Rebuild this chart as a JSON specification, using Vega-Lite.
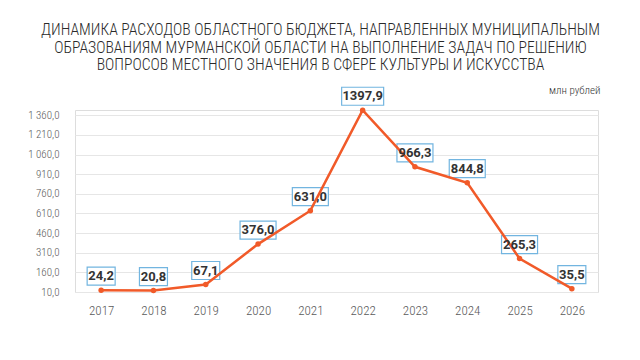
{
  "$schema": "https://vega.github.io/schema/vega-lite/v6.json",
  "width": 523,
  "height": 182,
  "autosize": {"type": "none"},
  "padding": {"left": 75, "top": 110, "right": 42, "bottom": 68},
  "background": "white",
  "title": {
    "text": [
      "ДИНАМИКА РАСХОДОВ ОБЛАСТНОГО БЮДЖЕТА, НАПРАВЛЕННЫХ МУНИЦИПАЛЬНЫМ",
      "ОБРАЗОВАНИЯМ МУРМАНСКОЙ ОБЛАСТИ НА ВЫПОЛНЕНИЕ ЗАДАЧ ПО РЕШЕНИЮ",
      "ВОПРОСОВ МЕСТНОГО ЗНАЧЕНИЯ В СФЕРЕ КУЛЬТУРЫ И ИСКУССТВА"
    ],
    "anchor": "middle",
    "dx": -16,
    "font": "Roboto Condensed, Liberation Sans Narrow, sans-serif",
    "fontSize": 15.7,
    "fontWeight": 300,
    "color": "#2a2a2a",
    "lineHeight": 17.5,
    "offset": 10
  },
  "data": {
    "values": [
      {"year": "2017", "value": 24.2, "label": "24,2"},
      {"year": "2018", "value": 20.8, "label": "20,8"},
      {"year": "2019", "value": 67.1, "label": "67,1"},
      {"year": "2020", "value": 376.0, "label": "376,0"},
      {"year": "2021", "value": 631.0, "label": "631,0"},
      {"year": "2022", "value": 1397.9, "label": "1397,9"},
      {"year": "2023", "value": 966.3, "label": "966,3"},
      {"year": "2024", "value": 844.8, "label": "844,8"},
      {"year": "2025", "value": 265.3, "label": "265,3"},
      {"year": "2026", "value": 35.5, "label": "35,5"}
    ]
  },
  "encoding": {
    "x": {
      "field": "year",
      "type": "ordinal",
      "scale": {"type": "point", "padding": 0.5},
      "axis": {
        "title": null,
        "domain": false,
        "ticks": false,
        "grid": false,
        "labelAngle": 0,
        "labelPadding": 12,
        "labelFontSize": 13,
        "labelFontWeight": 300,
        "labelColor": "#595959",
        "labelFont": "Roboto Condensed, Liberation Sans Narrow, sans-serif"
      }
    },
    "y": {
      "field": "value",
      "type": "quantitative",
      "scale": {"domain": [10, 1400], "nice": false, "zero": false},
      "axis": {
        "values": [10, 160, 310, 460, 610, 760, 910, 1060, 1210, 1360],
        "labelExpr": "replace(replace(format(datum.value, ',.1f'), ',', ' '), '.', ',')",
        "domain": false,
        "ticks": false,
        "gridColor": "#e6e6e6",
        "labelPadding": 16,
        "labelFontSize": 11,
        "labelFontWeight": 300,
        "labelColor": "#595959",
        "labelFont": "Roboto Condensed, Liberation Sans Narrow, sans-serif",
        "title": "млн рублей",
        "titleAngle": 0,
        "titleAlign": "right",
        "titleBaseline": "middle",
        "titleX": 525,
        "titleY": -20,
        "titleFontSize": 11,
        "titleFontWeight": 300,
        "titleColor": "#333333",
        "titleFont": "Roboto Condensed, Liberation Sans Narrow, sans-serif"
      }
    }
  },
  "layer": [
    {
      "transform": [{"filter": "datum.value < 100"}],
      "mark": {"type": "point", "shape": "M-14,-23H14V-5H-14Z", "size": 4, "filled": true, "fill": "white", "stroke": "#72b5e0", "strokeWidth": 1.2, "opacity": 1}
    },
    {
      "transform": [{"filter": "datum.value >= 100 && datum.value < 1000"}],
      "mark": {"type": "point", "shape": "M-18,-23H18V-5H-18Z", "size": 4, "filled": true, "fill": "white", "stroke": "#72b5e0", "strokeWidth": 1.2, "opacity": 1}
    },
    {
      "transform": [{"filter": "datum.value >= 1000"}],
      "mark": {"type": "point", "shape": "M-21,-23H21V-5H-21Z", "size": 4, "filled": true, "fill": "white", "stroke": "#72b5e0", "strokeWidth": 1.2, "opacity": 1}
    },
    {
      "mark": {"type": "line", "color": "#f15a29", "strokeWidth": 2.5}
    },
    {
      "mark": {"type": "point", "filled": true, "size": 30, "color": "#f15a29", "opacity": 1}
    },
    {
      "mark": {"type": "text", "dy": -14, "baseline": "middle", "align": "center", "fontSize": 13, "fontWeight": "bold", "color": "#333333", "font": "Roboto, sans-serif"},
      "encoding": {"text": {"field": "label"}}
    }
  ]
}
